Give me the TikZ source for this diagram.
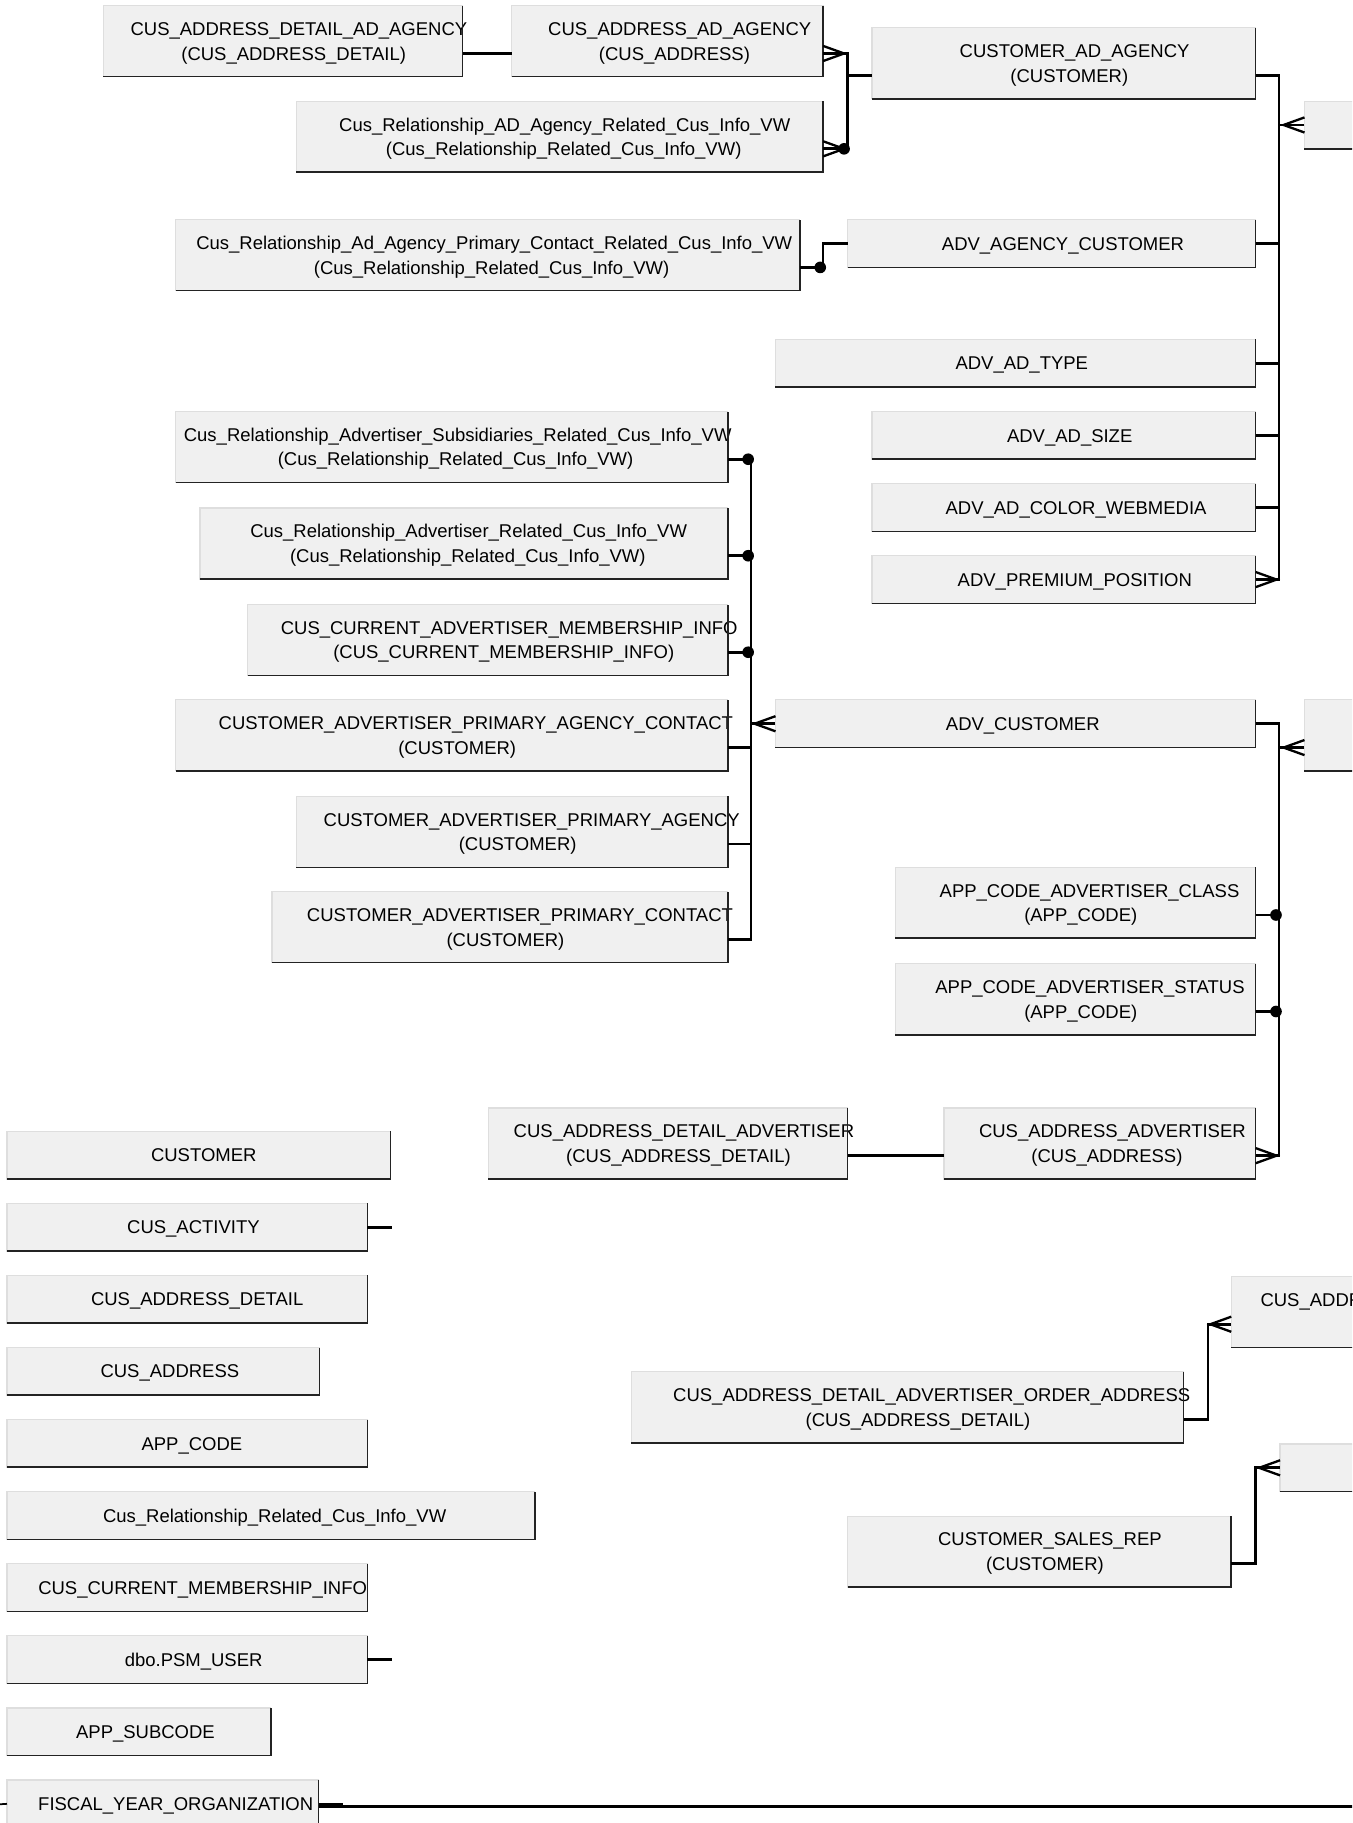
\documentclass[tikz,border=0pt]{standalone}
\usepackage{fontspec}
\newfontfamily\entfont{Liberation Sans}
\usetikzlibrary{calc}
\definecolor{boxfill}{RGB}{240,240,240}
\definecolor{boxlight}{RGB}{222,222,222}
\definecolor{boxdark}{RGB}{35,35,35}
% caps lines are set a little to the right of centre, mixed-case lines less so
\newcommand\shl[1]{\setbox0=\hbox{#1}\hbox to 1.094\wd0{\hfil\box0}}
\newcommand\shm[1]{\setbox0=\hbox{#1}\hbox to 1.022\wd0{\hfil\box0}}
\newcommand\eone[1]{\makebox[0pt]{\shl{#1}}}
\newcommand\eonem[1]{\makebox[0pt]{\shm{#1}}}
\newcommand\etwo[2]{\makebox[0pt]{\begin{tabular}[t]{@{}c@{}}\shl{#1}\\\shl{#2}\end{tabular}}}
\newcommand\etwom[2]{\makebox[0pt]{\begin{tabular}[t]{@{}c@{}}\shm{#1}\\\shm{#2}\end{tabular}}}
\tikzset{
 entbase/.style={rectangle, fill=boxfill, draw=boxlight, line width=1pt, inner sep=0pt, outer sep=0pt, font={\entfont\fontsize{15.9pt}{21pt}\selectfont}},
 ent1/.style={entbase, text height=15pt, text depth=3.6pt},
 ent2/.style={entbase, text height=15pt, text depth=24.6pt},
 dk/.style={draw=boxdark, line width=1.3pt},
 conn/.style={draw=black, line width=2.3pt},
 crowR/.pic={\draw[draw=black, line width=2pt] (0,-6.5) -- (18,0) -- (0,6.5);},
 crowL/.pic={\draw[draw=black, line width=2pt] (0,-6.5) -- (-18,0) -- (0,6.5);},
}
\newcommand\entity[7]{%
  \node[#1, minimum width={#5-#3}, minimum height={#6-#4}] (#2) at ({(#3+#5)/2},{(#4+#6)/2}) {#7};
  \draw[dk] (#2.south west) -- (#2.south east) -- (#2.north east);
}
\begin{document}
\begin{tikzpicture}[x=1pt,y=-1pt]
\useasboundingbox (0,0) rectangle (1163,1568);
\fill[white] (0,0) rectangle (1163,1568);
\clip (0,0) rectangle (1163,1568);

% ---------- entities ----------
\entity{ent2}{b1}{89}{5}{398}{66}{\etwo{CUS\_ADDRESS\_DETAIL\_AD\_AGENCY}{(CUS\_ADDRESS\_DETAIL)}}
\entity{ent2}{b2}{440}{5}{708}{66}{\etwo{CUS\_ADDRESS\_AD\_AGENCY}{(CUS\_ADDRESS)}}
\entity{ent2}{b3}{255}{87}{708}{148}{\etwom{Cus\_Relationship\_AD\_Agency\_Related\_Cus\_Info\_VW}{(Cus\_Relationship\_Related\_Cus\_Info\_VW)}}
\entity{ent2}{b4}{750}{24}{1080}{85}{\etwo{CUSTOMER\_AD\_AGENCY}{(CUSTOMER)}}
\entity{ent1}{p1}{1122}{87}{1200}{128}{}
\entity{ent2}{b6}{151}{189}{688}{250}{\etwom{Cus\_Relationship\_Ad\_Agency\_Primary\_Contact\_Related\_Cus\_Info\_VW}{(Cus\_Relationship\_Related\_Cus\_Info\_VW)}}
\entity{ent1}{b7}{729}{189}{1080}{230}{\eone{ADV\_AGENCY\_CUSTOMER}}
\entity{ent1}{b8}{667}{292}{1080}{333}{\eone{ADV\_AD\_TYPE}}
\entity{ent1}{b9}{750}{354}{1080}{395}{\eone{ADV\_AD\_SIZE}}
\entity{ent1}{b10}{750}{416}{1080}{457}{\eone{ADV\_AD\_COLOR\_WEBMEDIA}}
\entity{ent1}{b11}{750}{478}{1080}{519}{\eone{ADV\_PREMIUM\_POSITION}}
\entity{ent2}{b12}{151}{354}{626}{415}{\etwom{Cus\_Relationship\_Advertiser\_Subsidiaries\_Related\_Cus\_Info\_VW}{(Cus\_Relationship\_Related\_Cus\_Info\_VW)}}
\entity{ent2}{b13}{172}{437}{626}{498}{\etwom{Cus\_Relationship\_Advertiser\_Related\_Cus\_Info\_VW}{(Cus\_Relationship\_Related\_Cus\_Info\_VW)}}
\entity{ent2}{b14}{213}{520}{626}{581}{\etwo{CUS\_CURRENT\_ADVERTISER\_MEMBERSHIP\_INFO}{(CUS\_CURRENT\_MEMBERSHIP\_INFO)}}
\entity{ent2}{b15}{151}{602}{626}{663}{\etwo{CUSTOMER\_ADVERTISER\_PRIMARY\_AGENCY\_CONTACT}{(CUSTOMER)}}
\entity{ent2}{b16}{255}{685}{626}{746}{\etwo{CUSTOMER\_ADVERTISER\_PRIMARY\_AGENCY}{(CUSTOMER)}}
\entity{ent2}{b17}{234}{767}{626}{828}{\etwo{CUSTOMER\_ADVERTISER\_PRIMARY\_CONTACT}{(CUSTOMER)}}
\entity{ent1}{b18}{667}{602}{1080}{643}{\eone{ADV\_CUSTOMER}}
\entity{ent2}{p2}{1122}{602}{1200}{663}{}
\entity{ent2}{b20}{770}{746}{1080}{807}{\etwo{APP\_CODE\_ADVERTISER\_CLASS}{(APP\_CODE)}}
\entity{ent2}{b21}{770}{829}{1080}{890}{\etwo{APP\_CODE\_ADVERTISER\_STATUS}{(APP\_CODE)}}
\entity{ent2}{b22}{420}{953}{729}{1014}{\etwo{CUS\_ADDRESS\_DETAIL\_ADVERTISER}{(CUS\_ADDRESS\_DETAIL)}}
\entity{ent2}{b23}{812}{953}{1080}{1014}{\etwo{CUS\_ADDRESS\_ADVERTISER}{(CUS\_ADDRESS)}}
\entity{ent1}{s1}{6}{973}{336}{1014}{\eone{CUSTOMER}}
\entity{ent1}{s2}{6}{1035}{316}{1076}{\eone{CUS\_ACTIVITY}}
\entity{ent1}{s3}{6}{1097}{316}{1138}{\eone{CUS\_ADDRESS\_DETAIL}}
\entity{ent1}{s4}{6}{1159}{275}{1200}{\eone{CUS\_ADDRESS}}
\entity{ent1}{s5}{6}{1221}{316}{1262}{\eone{APP\_CODE}}
\entity{ent1}{s6}{6}{1283}{460}{1324}{\eonem{Cus\_Relationship\_Related\_Cus\_Info\_VW}}
\entity{ent1}{s7}{6}{1345}{316}{1386}{\eone{CUS\_CURRENT\_MEMBERSHIP\_INFO}}
\entity{ent1}{s8}{6}{1407}{316}{1448}{\eone{dbo.PSM\_USER}}
\entity{ent1}{s9}{6}{1469}{233}{1510}{\eone{APP\_SUBCODE}}
\entity{ent1}{s10}{6}{1531}{274}{1572}{\eone{FISCAL\_YEAR\_ORGANIZATION}}
\entity{ent2}{p3}{1059}{1098}{1200}{1159}{}
\node[anchor=base west, inner sep=0pt, font={\entfont\fontsize{15.9pt}{21pt}\selectfont}] (p3t) at (1084,1123.7) {CUS\_ADDR};
\entity{ent2}{b35}{543}{1180}{1018}{1241}{\etwo{CUS\_ADDRESS\_DETAIL\_ADVERTISER\_ORDER\_ADDRESS}{(CUS\_ADDRESS\_DETAIL)}}
\entity{ent1}{p4}{1101}{1242}{1200}{1283}{}
\entity{ent2}{b37}{729}{1304}{1059}{1365}{\etwo{CUSTOMER\_SALES\_REP}{(CUSTOMER)}}

% ---------- row-2 anchors ----------
\foreach \n in {b1,b2,b3,b4,b6,b12,b13,b14,b15,b16,b17,b20,b21,b22,b23,b35,b37,p2,p3}{
  \coordinate (\n e2) at ([yshift=-10.5pt]\n.east);
  \coordinate (\n w2) at ([yshift=-10.5pt]\n.west);
}

% ---------- top group ----------
\draw[conn] (b1e2) -- (b2w2);
\draw[conn] (b2e2) -- ++(21,0) coordinate (j1) |- (b3e2);
\draw[conn] (b4w2) -- (b4w2 -| j1);
\path (b2e2) pic {crowR};
\path (b3e2) pic {crowR};
\fill ([xshift=18pt]b3e2) circle (5);

% ---------- right trunk 1 ----------
\draw[conn] (b4e2) -- ++(20,0) coordinate (j2) |- (b11.east);
\draw[conn] (b7.east) -- (b7.east -| j2);
\draw[conn] (b8.east) -- (b8.east -| j2);
\draw[conn] (b9.east) -- (b9.east -| j2);
\draw[conn] (b10.east) -- (b10.east -| j2);
\draw[conn] (p1.west) -- (p1.west -| j2);
\path (b11.east) pic {crowR};
\path (p1.west) pic {crowL};

% ---------- b6 -> b7 ----------
\draw[conn] (b6e2) -- ++(20,0) |- (b7.west);
\fill ([xshift=17.5pt]b6e2) circle (5);

% ---------- advertiser group ----------
\draw[conn] (b12e2) -- ++(20,0) coordinate (j3) |- (b17e2);
\draw[conn] (b13e2) -- (b13e2 -| j3);
\draw[conn] (b14e2) -- (b14e2 -| j3);
\draw[conn] (b15e2) -- (b15e2 -| j3);
\draw[conn] (b16e2) -- (b16e2 -| j3);
\draw[conn] (b18.west) -- (b18.west -| j3);
\path (b18.west) pic {crowL};
\fill ([xshift=17.5pt]b12e2) circle (5);
\fill ([xshift=17.5pt]b13e2) circle (5);
\fill ([xshift=17.5pt]b14e2) circle (5);

% ---------- right trunk 2 ----------
\draw[conn] (b18.east) -- ++(20,0) coordinate (j4) |- (b23e2);
\draw[conn] (p2w2) -- (p2w2 -| j4);
\draw[conn] (b20e2) -- (b20e2 -| j4);
\draw[conn] (b21e2) -- (b21e2 -| j4);
\path (p2w2) pic {crowL};
\path (b23e2) pic {crowR};
\fill ([xshift=17.5pt]b20e2) circle (5);
\fill ([xshift=17.5pt]b21e2) circle (5);
\draw[conn] (b22e2) -- (b23w2);

% ---------- stubs ----------
\draw[conn] (s2.east) -- ++(21,0) coordinate (s2end);
\draw[conn] (s8.east) -- ++(21,0) coordinate (s8end);
\draw[conn] (s10.east) -- ++(21,0) coordinate (s10end);
\coordinate (fyend) at (1170,1553.5);
\draw[conn] ([yshift=-2pt]s10.east) -- (fyend);
\coordinate (fystart) at (-2,1552);
\draw[line width=1.5pt] (s10.west) -- (fystart);

% ---------- bottom right ----------
\draw[conn] (b35e2) -- ++(21,0) |- (p3w2);
\path (p3w2) pic {crowL};
\draw[conn] (b37e2) -- ++(21,0) |- (p4.west);
\path (p4.west) pic {crowL};
\end{tikzpicture}
\end{document}
